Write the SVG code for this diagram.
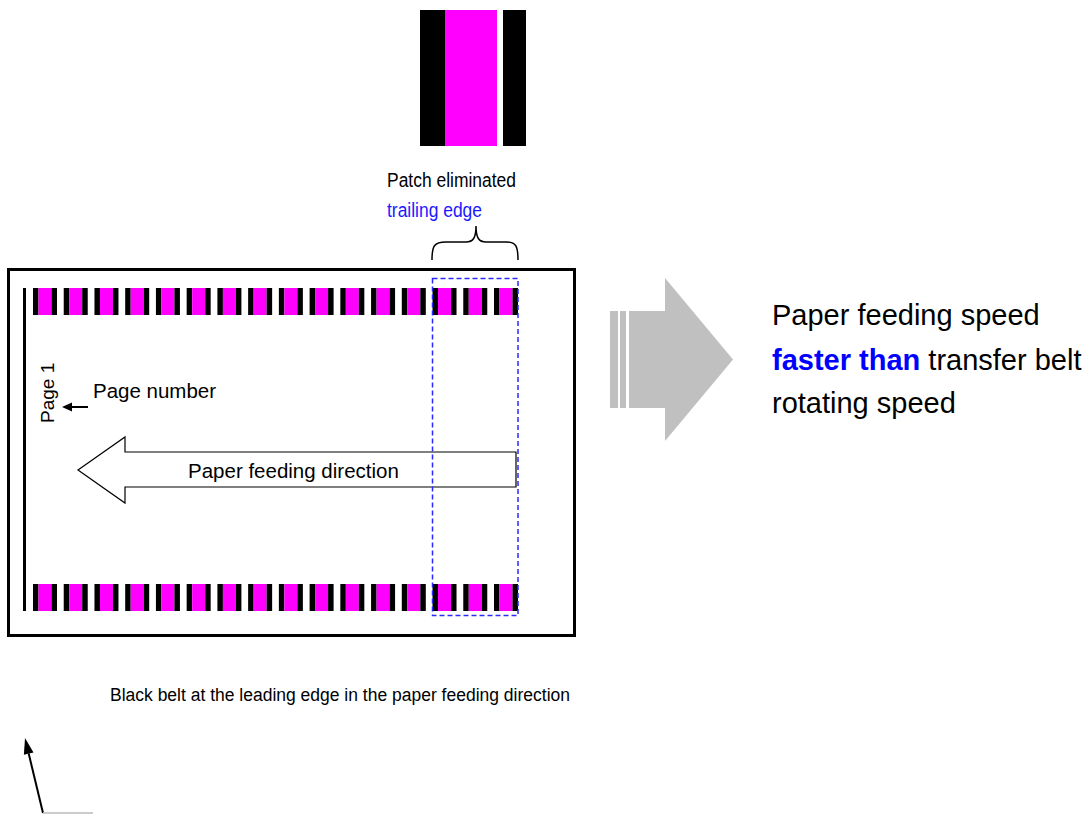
<svg xmlns="http://www.w3.org/2000/svg" xmlns:xlink="http://www.w3.org/1999/xlink" width="1089" height="814" viewBox="0 0 1089 814">
<style>
.t{font-family:"Liberation Sans",Arial,sans-serif;fill:#000}
.blue{fill:#1a1aff}
.k{fill:#000}
.m{fill:#ff00ff}
</style>
<defs>
<g id="patch">
<rect class="k" x="0" y="0" width="5.5" height="27"/>
<rect class="m" x="5.5" y="0" width="13" height="27"/>
<rect class="k" x="18.5" y="0" width="5.5" height="27"/>
</g>
</defs>
<rect width="1089" height="814" fill="#fff"/>

<g id="top-patch">
<rect class="k" x="420" y="10" width="25" height="136"/>
<rect class="m" x="445" y="10" width="52" height="136"/>
<rect class="k" x="503" y="10" width="23" height="136"/>
</g>

<g id="patch-label">
<text class="t" x="387" y="187" font-size="20" textLength="129" lengthAdjust="spacingAndGlyphs">Patch eliminated</text>
<text class="t blue" x="387" y="217" font-size="20" textLength="95" lengthAdjust="spacingAndGlyphs">trailing edge</text>
<path d="M432,260 C432,246 434,242 446,242 L466,242 C473,242 476,238 476,226 C476,238 479,242 486,242 L506,242 C516,242 518,246 518,260" fill="none" stroke="#000" stroke-width="1.5"/>
</g>

<g id="paper">
<rect x="8.5" y="269.5" width="566" height="366" fill="#fff" stroke="#000" stroke-width="3"/>
<rect x="23" y="288" width="3" height="323" fill="#000"/>
</g>

<g id="top-strip">
<use xlink:href="#patch" x="33" y="288"/>
<use xlink:href="#patch" x="63.73" y="288"/>
<use xlink:href="#patch" x="94.47" y="288"/>
<use xlink:href="#patch" x="125.2" y="288"/>
<use xlink:href="#patch" x="155.93" y="288"/>
<use xlink:href="#patch" x="186.67" y="288"/>
<use xlink:href="#patch" x="217.4" y="288"/>
<use xlink:href="#patch" x="248.13" y="288"/>
<use xlink:href="#patch" x="278.87" y="288"/>
<use xlink:href="#patch" x="309.6" y="288"/>
<use xlink:href="#patch" x="340.33" y="288"/>
<use xlink:href="#patch" x="371.07" y="288"/>
<use xlink:href="#patch" x="401.8" y="288"/>
<use xlink:href="#patch" x="432.53" y="288"/>
<use xlink:href="#patch" x="463.27" y="288"/>
<use xlink:href="#patch" x="494" y="288"/>
</g>

<g id="bottom-strip">
<use xlink:href="#patch" x="33" y="584"/>
<use xlink:href="#patch" x="63.73" y="584"/>
<use xlink:href="#patch" x="94.47" y="584"/>
<use xlink:href="#patch" x="125.2" y="584"/>
<use xlink:href="#patch" x="155.93" y="584"/>
<use xlink:href="#patch" x="186.67" y="584"/>
<use xlink:href="#patch" x="217.4" y="584"/>
<use xlink:href="#patch" x="248.13" y="584"/>
<use xlink:href="#patch" x="278.87" y="584"/>
<use xlink:href="#patch" x="309.6" y="584"/>
<use xlink:href="#patch" x="340.33" y="584"/>
<use xlink:href="#patch" x="371.07" y="584"/>
<use xlink:href="#patch" x="401.8" y="584"/>
<use xlink:href="#patch" x="432.53" y="584"/>
<use xlink:href="#patch" x="463.27" y="584"/>
<use xlink:href="#patch" x="494" y="584"/>
</g>

<g id="page-number">
<text class="t" font-size="19" transform="translate(54,423) rotate(-90)">Page 1</text>
<text class="t" x="93" y="398" font-size="20.5">Page number</text>
</g>

<g id="feed-arrow">
<polygon points="78,470 125,437 125,452 516,452 516,487 125,487 125,503" fill="#fff" stroke="#000" stroke-width="1.2"/>
<text class="t" x="188" y="478" font-size="20.5">Paper feeding direction</text>
</g>

<g id="eliminated-region">
<rect x="432.5" y="278.5" width="85.5" height="337" fill="none" stroke="#2a2aff" stroke-width="1.5" stroke-dasharray="5,3"/>
</g>

<g id="speed-arrow">
<rect x="610" y="311" width="8" height="97" fill="#c0c0c0"/>
<rect x="620" y="311" width="6" height="97" fill="#c0c0c0"/>
<polygon points="629,311 665,311 665,278 733,359.5 665,441 665,408 629,408" fill="#c0c0c0"/>
</g>

<g id="speed-text">
<text class="t" x="772" y="325" font-size="29">Paper feeding speed</text>
<text class="t" x="772" y="370" font-size="29"><tspan fill="#0000ff" font-weight="bold">faster than</tspan> transfer belt</text>
<text class="t" x="772" y="413" font-size="29">rotating speed</text>
</g>

<g id="caption">
<text class="t" x="110" y="701" font-size="18" textLength="460" lengthAdjust="spacingAndGlyphs">Black belt at the leading edge in the paper feeding direction</text>
</g>

<g id="connectors">
<line x1="88" y1="407" x2="70" y2="407" stroke="#000" stroke-width="2"/>
<polygon points="62,407 72,402.5 72,411.5" fill="#000"/>
<line x1="43" y1="813" x2="28.7" y2="753.6" stroke="#000" stroke-width="2"/>
<polygon points="25,738 33.5,752.5 23.9,754.7" fill="#000"/>
<line x1="43" y1="813" x2="93" y2="813" stroke="#bbb" stroke-width="1.5"/>
</g>
</svg>
